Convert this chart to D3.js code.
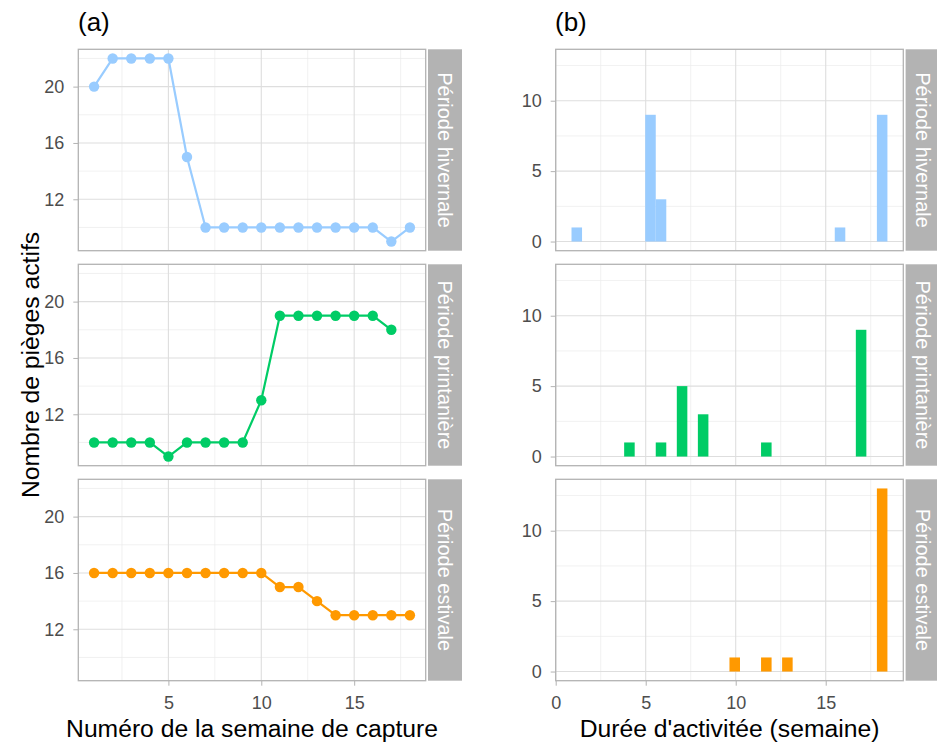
<!DOCTYPE html>
<html><head><meta charset="utf-8">
<script src="https://cdn.jsdelivr.net/npm/d3@7/dist/d3.min.js"></script>
<style>
body{margin:0;background:#fff;}
svg{display:block;font-family:"Liberation Sans",Arial,Helvetica,sans-serif;}
</style></head>
<body><svg id="chart" width="937" height="742"></svg>
<script>
// ---- data ----
const seasons = ["Période hivernale", "Période printanière", "Période estivale"];
const seasonColors = ["#99CCFF", "#00CC66", "#FF9900"];
// (a) weekly active traps
const weeksHiv = [1,2,3,4,5,6,7,8,9,10,11,12,13,14,15,16,17,18];
const trapsHiv = [20,22,22,22,22,15,10,10,10,10,10,10,10,10,10,10,9,10];
const weeksPri = [1,2,3,4,5,6,7,8,9,10,11,12,13,14,15,16,17];
const trapsPri = [10,10,10,10,9,10,10,10,10,13,19,19,19,19,19,19,18];
const weeksEst = [1,2,3,4,5,6,7,8,9,10,11,12,13,14,15,16,17,18];
const trapsEst = [16,16,16,16,16,16,16,16,16,16,15,15,14,13,13,13,13,13];
// (b) histogram of activity duration (bin left edge, count); bin width shared
const binWidth = 0.585;
const binStartHiv = [0.878, 4.973, 5.558, 15.503, 17.843];
const countHiv    = [1, 9, 3, 1, 9];
const binStartPri = [3.803, 5.558, 6.728, 7.898, 11.408, 16.673];
const countPri    = [1, 1, 5, 3, 1, 9];
const binStartEst = [9.653, 11.408, 12.578, 17.843];
const countEst    = [1, 1, 1, 13];
// axes
const ticksAX = [5, 10, 15], minorAX = [2.5, 7.5, 12.5, 17.5];
const ticksAY = [12, 16, 20], minorAY = [10, 14, 18, 22];
const ticksBX = [0, 5, 10, 15], minorBX = [2.5, 7.5, 12.5, 17.5];
const ticksBY = [0, 5, 10], minorBY = [2.5, 7.5, 12.5];

const lineData = [
  weeksHiv.map((w,i)=>({x:w,y:trapsHiv[i]})),
  weeksPri.map((w,i)=>({x:w,y:trapsPri[i]})),
  weeksEst.map((w,i)=>({x:w,y:trapsEst[i]}))
];
const histData = [
  binStartHiv.map((b,i)=>({x0:b,x1:b+binWidth,n:countHiv[i]})),
  binStartPri.map((b,i)=>({x0:b,x1:b+binWidth,n:countPri[i]})),
  binStartEst.map((b,i)=>({x0:b,x1:b+binWidth,n:countEst[i]}))
];

// ---- layout ----
const svg = d3.select("#chart");
const panelTops = [49.3, 264.3, 479.3];
const panelH = 201.4;
const A = {left:78.3, right:425.7};
const B = {left:555.7, right:903.3};
const stripW = 34, stripGap = 2.3;
const tickFs = 18, stripFs = 20, titleFs = 24.7;

const xA = d3.scaleLinear().domain([0.15, 18.85]).range([A.left, A.right]);
const xB = d3.scaleLinear().domain([0, 19.31]).range([B.left, B.right]);

const gridMajor = "#DEDEDE", gridMinor = "#EBEBEB", border = "#B3B3B3";
const tickCol = "#4D4D4D";

function drawPanel(P, x, yDomain, tMinorX, tMajorX, tMinorY, tMajorY, top, showX, label) {
  const y = d3.scaleLinear().domain(yDomain).range([top+panelH, top]);
  const g = svg.append("g");
  g.selectAll(".mx").data(tMinorX).join("line")
    .attr("x1",d=>x(d)).attr("x2",d=>x(d)).attr("y1",top).attr("y2",top+panelH)
    .attr("stroke",gridMinor).attr("stroke-width",0.7);
  g.selectAll(".my").data(tMinorY).join("line")
    .attr("x1",P.left).attr("x2",P.right).attr("y1",d=>y(d)).attr("y2",d=>y(d))
    .attr("stroke",gridMinor).attr("stroke-width",0.7);
  g.selectAll(".Mx").data(tMajorX).join("line")
    .attr("x1",d=>x(d)).attr("x2",d=>x(d)).attr("y1",top).attr("y2",top+panelH)
    .attr("stroke",gridMajor).attr("stroke-width",1.1);
  g.selectAll(".My").data(tMajorY).join("line")
    .attr("x1",P.left).attr("x2",P.right).attr("y1",d=>y(d)).attr("y2",d=>y(d))
    .attr("stroke",gridMajor).attr("stroke-width",1.1);
  const ay = svg.append("g").attr("transform",`translate(${P.left},0)`)
    .call(d3.axisLeft(y).tickValues(tMajorY).tickSize(5).tickPadding(9).tickFormat(d3.format("d")));
  ay.select(".domain").remove();
  ay.selectAll(".tick line").attr("stroke",border).attr("stroke-width",1);
  ay.selectAll(".tick text").attr("fill",tickCol).attr("font-size",tickFs).attr("font-family","Liberation Sans, Arial, sans-serif");
  if (showX) {
    const ax = svg.append("g").attr("transform",`translate(0,${top+panelH})`)
      .call(d3.axisBottom(x).tickValues(tMajorX).tickSize(5).tickPadding(11).tickFormat(d3.format("d")));
    ax.select(".domain").remove();
    ax.selectAll(".tick line").attr("stroke",border).attr("stroke-width",1);
    ax.selectAll(".tick text").attr("fill",tickCol).attr("font-size",tickFs).attr("font-family","Liberation Sans, Arial, sans-serif");
  }
  const sx = P.right + stripGap;
  svg.append("rect").attr("x",sx).attr("y",top).attr("width",stripW).attr("height",panelH).attr("fill","#B3B3B3");
  svg.append("text").attr("transform",`translate(${sx+stripW/2},${top+panelH/2}) rotate(90)`)
    .attr("text-anchor","middle").attr("dominant-baseline","central")
    .attr("fill","#fff").attr("font-size",stripFs).text(label);
  return {g, y, top};
}

function drawBorder(P, top){
  svg.append("rect").attr("x",P.left).attr("y",top).attr("width",P.right-P.left).attr("height",panelH)
    .attr("fill","none").attr("stroke",border).attr("stroke-width",1.3);
}

seasons.forEach((s,i)=>{
  const top = panelTops[i];
  const {g,y} = drawPanel(A, xA, [8.35, 22.65], minorAX, ticksAX, minorAY, ticksAY, top, i===2, s);
  const line = d3.line().x(d=>xA(d.x)).y(d=>y(d.y));
  g.append("path").datum(lineData[i]).attr("d",line).attr("fill","none")
    .attr("stroke",seasonColors[i]).attr("stroke-width",2.2);
  g.selectAll("circle").data(lineData[i]).join("circle")
    .attr("cx",d=>xA(d.x)).attr("cy",d=>y(d.y)).attr("r",5.2).attr("fill",seasonColors[i]);
  drawBorder(A, top);
});

seasons.forEach((s,i)=>{
  const top = panelTops[i];
  const {g,y} = drawPanel(B, xB, [-0.65, 13.65], minorBX, ticksBX, minorBY, ticksBY, top, i===2, s);
  g.selectAll("rect.bar").data(histData[i]).join("rect").attr("class","bar")
    .attr("x",d=>xB(d.x0)).attr("width",d=>xB(d.x1)-xB(d.x0))
    .attr("y",d=>y(d.n)).attr("height",d=>y(0)-y(d.n))
    .attr("fill",seasonColors[i]);
  drawBorder(B, top);
});

svg.append("text").attr("x",78).attr("y",31).attr("font-size",26).attr("fill","#000").text("(a)");
svg.append("text").attr("x",555).attr("y",31).attr("font-size",26).attr("fill","#000").text("(b)");
svg.append("text").attr("x",(A.left+A.right)/2).attr("y",737).attr("text-anchor","middle")
  .attr("font-size",titleFs).attr("fill","#000").text("Numéro de la semaine de capture");
svg.append("text").attr("x",(B.left+B.right)/2).attr("y",737).attr("text-anchor","middle")
  .attr("font-size",titleFs).attr("fill","#000").text("Durée d'activitée (semaine)");
svg.append("text").attr("transform",`translate(39,${(panelTops[0]+panelTops[2]+panelH)/2}) rotate(-90)`)
  .attr("text-anchor","middle").attr("font-size",titleFs).attr("fill","#000").text("Nombre de pièges actifs");
</script></body></html>
